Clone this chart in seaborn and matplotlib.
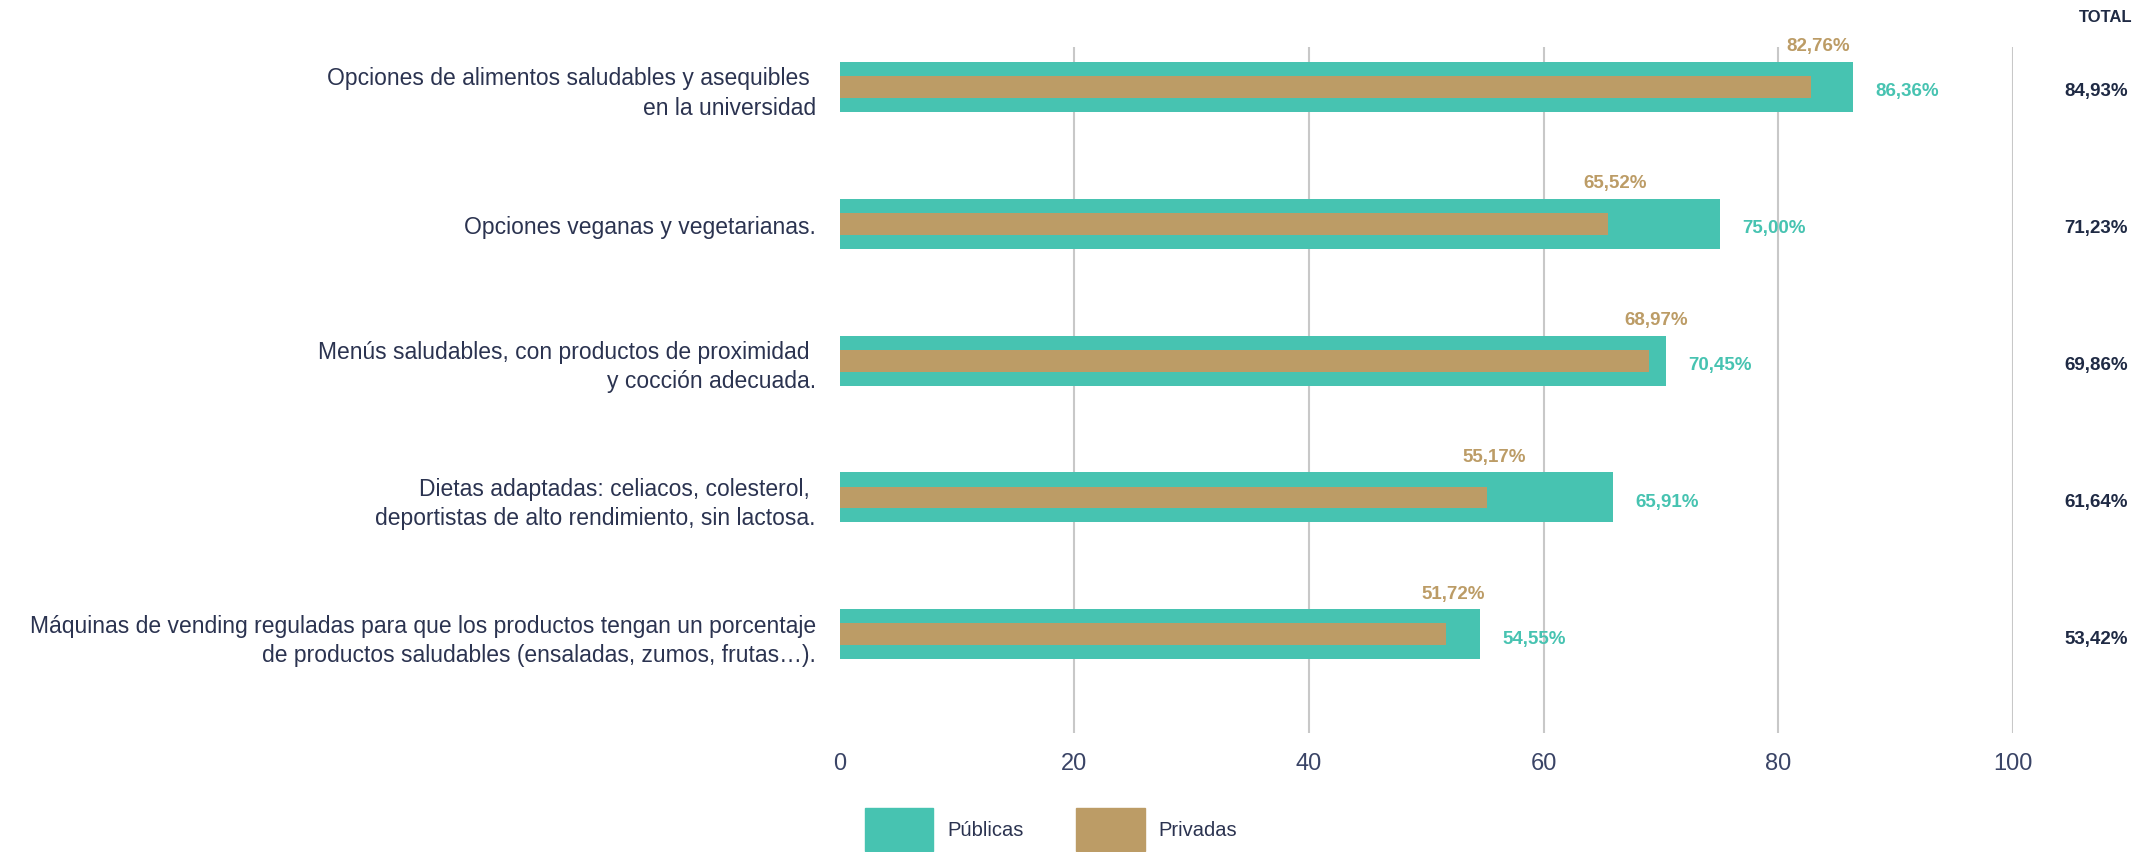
import pandas as pd
import matplotlib.pyplot as plt
import seaborn as sns
from matplotlib.patches import Patch

categorias = [
    "Opciones de alimentos saludables y asequibles \nen la universidad",
    "Opciones veganas y vegetarianas.",
    "Menús saludables, con productos de proximidad \ny cocción adecuada.",
    "Dietas adaptadas: celiacos, colesterol, \ndeportistas de alto rendimiento, sin lactosa.",
    "Máquinas de vending reguladas para que los productos tengan un porcentaje\nde productos saludables (ensaladas, zumos, frutas…).",
]
publicas = [86.36, 75.00, 70.45, 65.91, 54.55]
privadas = [82.76, 65.52, 68.97, 55.17, 51.72]
total = [84.93, 71.23, 69.86, 61.64, 53.42]
ticks = [0, 20, 40, 60, 80, 100]

c_pub = "#47C3B1"
c_priv = "#BC9C66"
c_txt = "#2B3350"
c_tot = "#1F2A44"

def pct(v):
    return f"{v:.2f}".replace(".", ",") + "%"

sns.set_style("white")
plt.rcParams["font.family"] = ["Liberation Sans", "DejaVu Sans"]

df = pd.DataFrame({"cat": categorias, "pub": publicas, "priv": privadas})

fig = plt.figure(figsize=(21.51, 8.53), dpi=100)
ax = fig.add_axes([839.6 / 2151, 1 - 734 / 853, (2013 - 839.6) / 2151, 686 / 853])

for x in ticks[1:]:
    ax.axvline(x, color="#C8C8C8", lw=1.5, zorder=0)

sns.barplot(data=df, y="cat", x="pub", color=c_pub, width=0.365, orient="h",
            saturation=1, linewidth=0, ax=ax, zorder=2)
sns.barplot(data=df, y="cat", x="priv", color=c_priv, width=0.16, orient="h",
            saturation=1, linewidth=0, ax=ax, zorder=3)

ax.set_xlim(0, 100)
ax.set_ylim(4.72, -0.29)
ax.set_xlabel("")
ax.set_ylabel("")
ax.set_xticks(ticks)
ax.set_xticklabels([str(t) for t in ticks], fontsize=17, color="#3A4466")
ax.tick_params(axis="x", length=0, pad=14)
ax.tick_params(axis="y", length=0, pad=17)
for lab in ax.get_yticklabels():
    lab.set_fontsize(16.5)
    lab.set_color(c_txt)
    lab.set_horizontalalignment("right")
    lab.set_multialignment("right")
    lab.set_linespacing(1.35)
sns.despine(ax=ax, left=True, bottom=True)

for i in range(len(categorias)):
    ax.text(publicas[i] + 1.9, i + 0.03, pct(publicas[i]), color=c_pub,
            fontsize=13.5, fontweight="bold", va="center", ha="left")
    ax.text(privadas[i] + 0.6, i - 0.30, pct(privadas[i]), color=c_priv,
            fontsize=13.5, fontweight="bold", va="center", ha="center")
    ax.text(107.1, i + 0.03, pct(total[i]), color=c_tot, fontsize=13.5,
            fontweight="bold", va="center", ha="center", clip_on=False)

fig.text(2106 / 2151, 1 - 18 / 853, "TOTAL", color=c_tot, fontsize=12,
         fontweight="bold", ha="center", va="center")

handles = [Patch(color=c_pub, label="Públicas"), Patch(color=c_priv, label="Privadas")]
fig.legend(handles=handles, loc="upper left", bbox_to_anchor=(865 / 2151, 1 - 809 / 853),
           ncol=2, frameon=False, fontsize=14.5, handlelength=3.4, handleheight=2.9,
           handletextpad=0.7, columnspacing=2.6, borderpad=0, borderaxespad=0,
           labelcolor=c_txt)

fig.savefig("out.png", dpi=100)
